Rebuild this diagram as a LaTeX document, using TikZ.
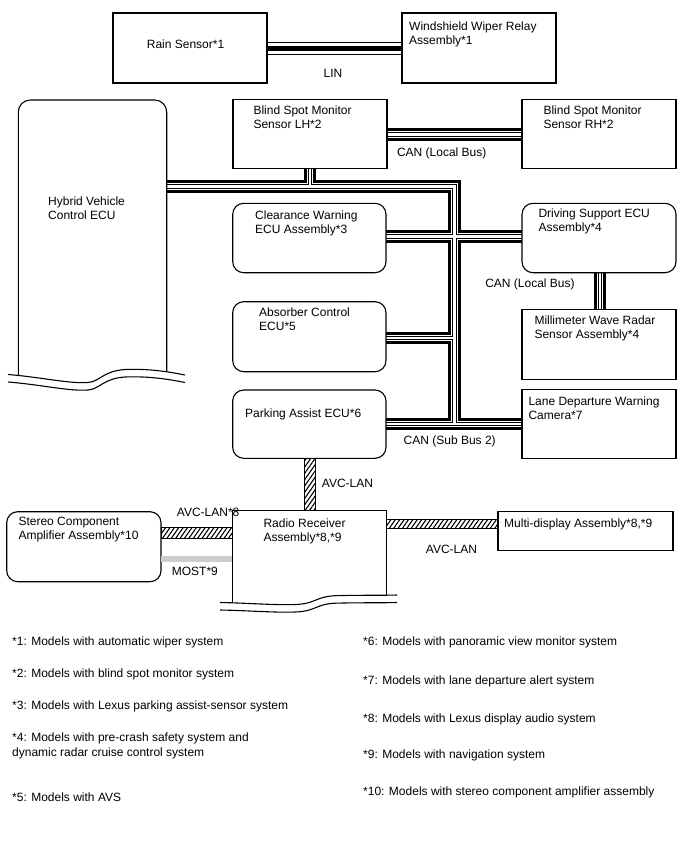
\documentclass[tikz,border=0pt]{standalone}
\usepackage{fontspec}
\setmainfont{Liberation Sans}
\usetikzlibrary{calc,patterns.meta}
\pgfdeclarelayer{bg}
\pgfsetlayers{bg,main}
\newcommand\buscan[1]{%
  \draw[line width=12.5pt] #1;
  \draw[white,line width=6.5pt] #1;
  \draw[line width=4.5pt] #1;
  \draw[white,line width=2.3pt] #1;}
\definecolor{mostgray}{RGB}{204,204,204}
\begin{document}
\begin{tikzpicture}[x=1pt,y=-1pt,
  box/.style={draw,line width=1.1pt,fill=white,inner sep=0pt,outer sep=0pt,anchor=north west},
  rbox/.style={box,rounded corners=11pt},
  ghost/.style={inner sep=0pt,outer sep=0pt,anchor=north west},
  lbl/.style={inner sep=0pt,align=left,anchor=north west,font=\fontsize{12}{14}\selectfont},
  bl/.style={inner sep=0pt,anchor=base west,font=\fontsize{12}{14}\selectfont},
  bc/.style={inner sep=0pt,anchor=base,font=\fontsize{12}{14}\selectfont},
  avc/.style={draw,line width=1pt,pattern={Lines[angle=55,distance=3.6pt,line width=1.1pt]}},
  wave/.style={line width=1.1pt},
  edge/.style={line width=1.1pt},
]
\useasboundingbox (0,0) rectangle (688,852);

% ---- boxes ----
\node[box,minimum width=154pt,minimum height=70pt] (rain) at (113,13) {};
\node[box,minimum width=154pt,minimum height=70pt] (wiper) at (402,13) {};
\node[ghost,minimum width=148.4pt,minimum height=275pt] (hv) at (18.3,100) {};
\node[box,minimum width=154pt,minimum height=69pt] (lh) at (233,99.3) {};
\node[box,minimum width=154pt,minimum height=69pt] (rh) at (522,99.3) {};
\node[rbox,minimum width=153.3pt,minimum height=69.4pt] (cw) at (232.7,203.3) {};
\node[rbox,minimum width=154pt,minimum height=69.4pt] (ds) at (522,203.3) {};
\node[box,minimum width=154pt,minimum height=70pt] (mm) at (522,309.3) {};
\node[rbox,minimum width=153.3pt,minimum height=70pt] (ab) at (232.7,301.7) {};
\node[rbox,minimum width=153.3pt,minimum height=68.3pt] (pa) at (232.7,390) {};
\node[box,minimum width=154pt,minimum height=69pt] (ld) at (522,389.3) {};
\node[rbox,minimum width=154.3pt,minimum height=70pt] (st) at (6.7,511.7) {};
\node[ghost,minimum width=154.4pt,minimum height=90pt] (rr) at (232.3,510.7) {};
\node[box,minimum width=175pt,minimum height=39pt] (md) at (498,511.5) {};

% Hybrid ECU outline with break
\draw[edge,rounded corners=12pt] (18.3,375.2) -- (18.3,100) -- (166.7,100) -- (166.7,371.5);
\draw[wave] (8,374.5) .. controls (40,377) and (70,384) .. (88,382.5) .. controls (100,381.5) and (103,371) .. (125,369.5) .. controls (150,368.5) and (170,372) .. (185,375);
\draw[wave,shift={(0,7.5)}] (8,374.5) .. controls (40,377) and (70,384) .. (88,382.5) .. controls (100,381.5) and (103,371) .. (125,369.5) .. controls (150,368.5) and (170,372) .. (185,375);

% Radio receiver outline with break
\draw[edge] (232.3,602.8) -- (232.3,510.7) -- (386.7,510.7) -- (386.7,596.3);
\draw[wave] (220,602.5) .. controls (250,603) and (285,606) .. (302,604) .. controls (315,602.5) and (318,596.5) .. (335,595.7) .. controls (360,595) and (380,595.5) .. (397,595);
\draw[wave,shift={(0,7.5)}] (220,602.5) .. controls (250,603) and (285,606) .. (302,604) .. controls (315,602.5) and (318,596.5) .. (335,595.7) .. controls (360,595) and (380,595.5) .. (397,595);

% ---- junction coordinates ----
\coordinate (jT) at (454.5,186.5);
\coordinate (jL) at (310,186.5);
\coordinate (jC) at (454.5,236.5);
\coordinate (jA) at (454.5,338);
\coordinate (jP) at (454.5,424);
\coordinate (jR) at (0,134.5);
\coordinate (jM) at (600,0);
\coordinate (jLin) at (0,48.7);
\coordinate (jV) at (309.5,0);
\coordinate (jS) at (0,533);
\coordinate (jD) at (0,523.5);
\coordinate (jMo) at (0,559);

% ---- buses (behind boxes) ----
\begin{pgfonlayer}{bg}
\buscan{(hv.east |- jT) -- (jT) -- (jP)
        (lh.south -| jL) -- (jL)
        (cw.east |- jC) -- (ds.west |- jC)
        (ab.east |- jA) -- (jA)
        (pa.east |- jP) -- (ld.west |- jP)
        (lh.east |- jR) -- (rh.west |- jR)
        (ds.south -| jM) -- (mm.north -| jM)}
\draw[line width=13.5pt] (rain.east |- jLin) -- (wiper.west |- jLin);
\draw[white,line width=11.4pt] (rain.east |- jLin) -- (wiper.west |- jLin);
\draw[line width=5pt] (rain.east |- jLin) -- (wiper.west |- jLin);
\end{pgfonlayer}

% AVC-LAN and MOST
\draw[avc] ($(pa.south -| jV)+(-5.5,0)$) rectangle ($(rr.north -| jV)+(5.5,0)$);
\draw[avc] ($(st.east |- jS)+(0,-5.8)$) rectangle ($(rr.west |- jS)+(0,5.8)$);
\draw[avc] ($(rr.east |- jD)+(0,-4.5)$) rectangle ($(md.west |- jD)+(0,4.5)$);
\draw[mostgray,line width=5.5pt] (st.east |- jMo) -- (rr.west |- jMo);

% ---- box texts ----
\node[bl] (tRain) at (146.7,48.3) {Rain Sensor*1};
\node[lbl] (tWiper) at (409,21.7) {Windshield Wiper Relay\\Assembly*1};
\node[lbl] (tHv) at (48,196.4) {Hybrid Vehicle\\Control ECU};
\node[lbl] (tLh) at (253.3,105.7) {Blind Spot Monitor\\Sensor LH*2};
\node[lbl] (tRh) at (543.3,105.7) {Blind Spot Monitor\\Sensor RH*2};
\node[lbl] (tCw) at (255,210.7) {Clearance Warning\\ECU Assembly*3};
\node[lbl] (tDs) at (538.3,209) {Driving Support ECU\\Assembly*4};
\node[lbl] (tMm) at (534.3,315.7) {Millimeter Wave Radar\\Sensor Assembly*4};
\node[lbl] (tAb) at (259,308) {Absorber Control\\ECU*5};
\node[bl] (tPa) at (245,417.6) {Parking Assist ECU*6};
\node[lbl] (tLd) at (528.3,396.4) {Lane Departure Warning\\Camera*7};
\node[lbl] (tSt) at (18.3,517.4) {Stereo Component\\Amplifier Assembly*10};
\node[lbl] (tRr) at (263.3,518.4) {Radio Receiver\\Assembly*8,*9};
\node[bl] (tMd) at (504,527.3) {Multi-display Assembly*8,*9};

% ---- bus labels ----
\node[bc] (lLin) at (333,77) {LIN};
\node[bc] (lCan1) at (441.7,156) {CAN (Local Bus)};
\node[bc] (lCan2) at (530,287.6) {CAN (Local Bus)};
\node[bc] (lCan3) at (449.7,444.3) {CAN (Sub Bus 2)};
\node[bl] (lAvc1) at (321.7,487.6) {AVC-LAN};
\node[bl] (lAvc2) at (176.7,516) {AVC-LAN*8};
\node[bc] (lAvc3) at (451.5,553.3) {AVC-LAN};
\node[bl] (lMost) at (171.7,575.3) {MOST*9};

% ---- footnotes ----
\node[bl] (n1) at (12,645.3) {*1: Models with automatic wiper system};
\node[bl] (n2) at (12,677.3) {*2: Models with blind spot monitor system};
\node[bl] (n3) at (12,709.3) {*3: Models with Lexus parking assist-sensor system};
\node[lbl,font=\fontsize{12}{15}\selectfont] (n4) at (12,732.7) {*4: Models with pre-crash safety system and\\dynamic radar cruise control system};
\node[bl] (n5) at (12,801.3) {*5: Models with AVS};
\node[bl] (n6) at (363,645.3) {*6: Models with panoramic view monitor system};
\node[bl] (n7) at (363,684.3) {*7: Models with lane departure alert system};
\node[bl] (n8) at (363,722.3) {*8: Models with Lexus display audio system};
\node[bl] (n9) at (363,758.3) {*9: Models with navigation system};
\node[bl] (n10) at (363,795.3) {*10: Models with stereo component amplifier assembly};
\end{tikzpicture}
\end{document}
